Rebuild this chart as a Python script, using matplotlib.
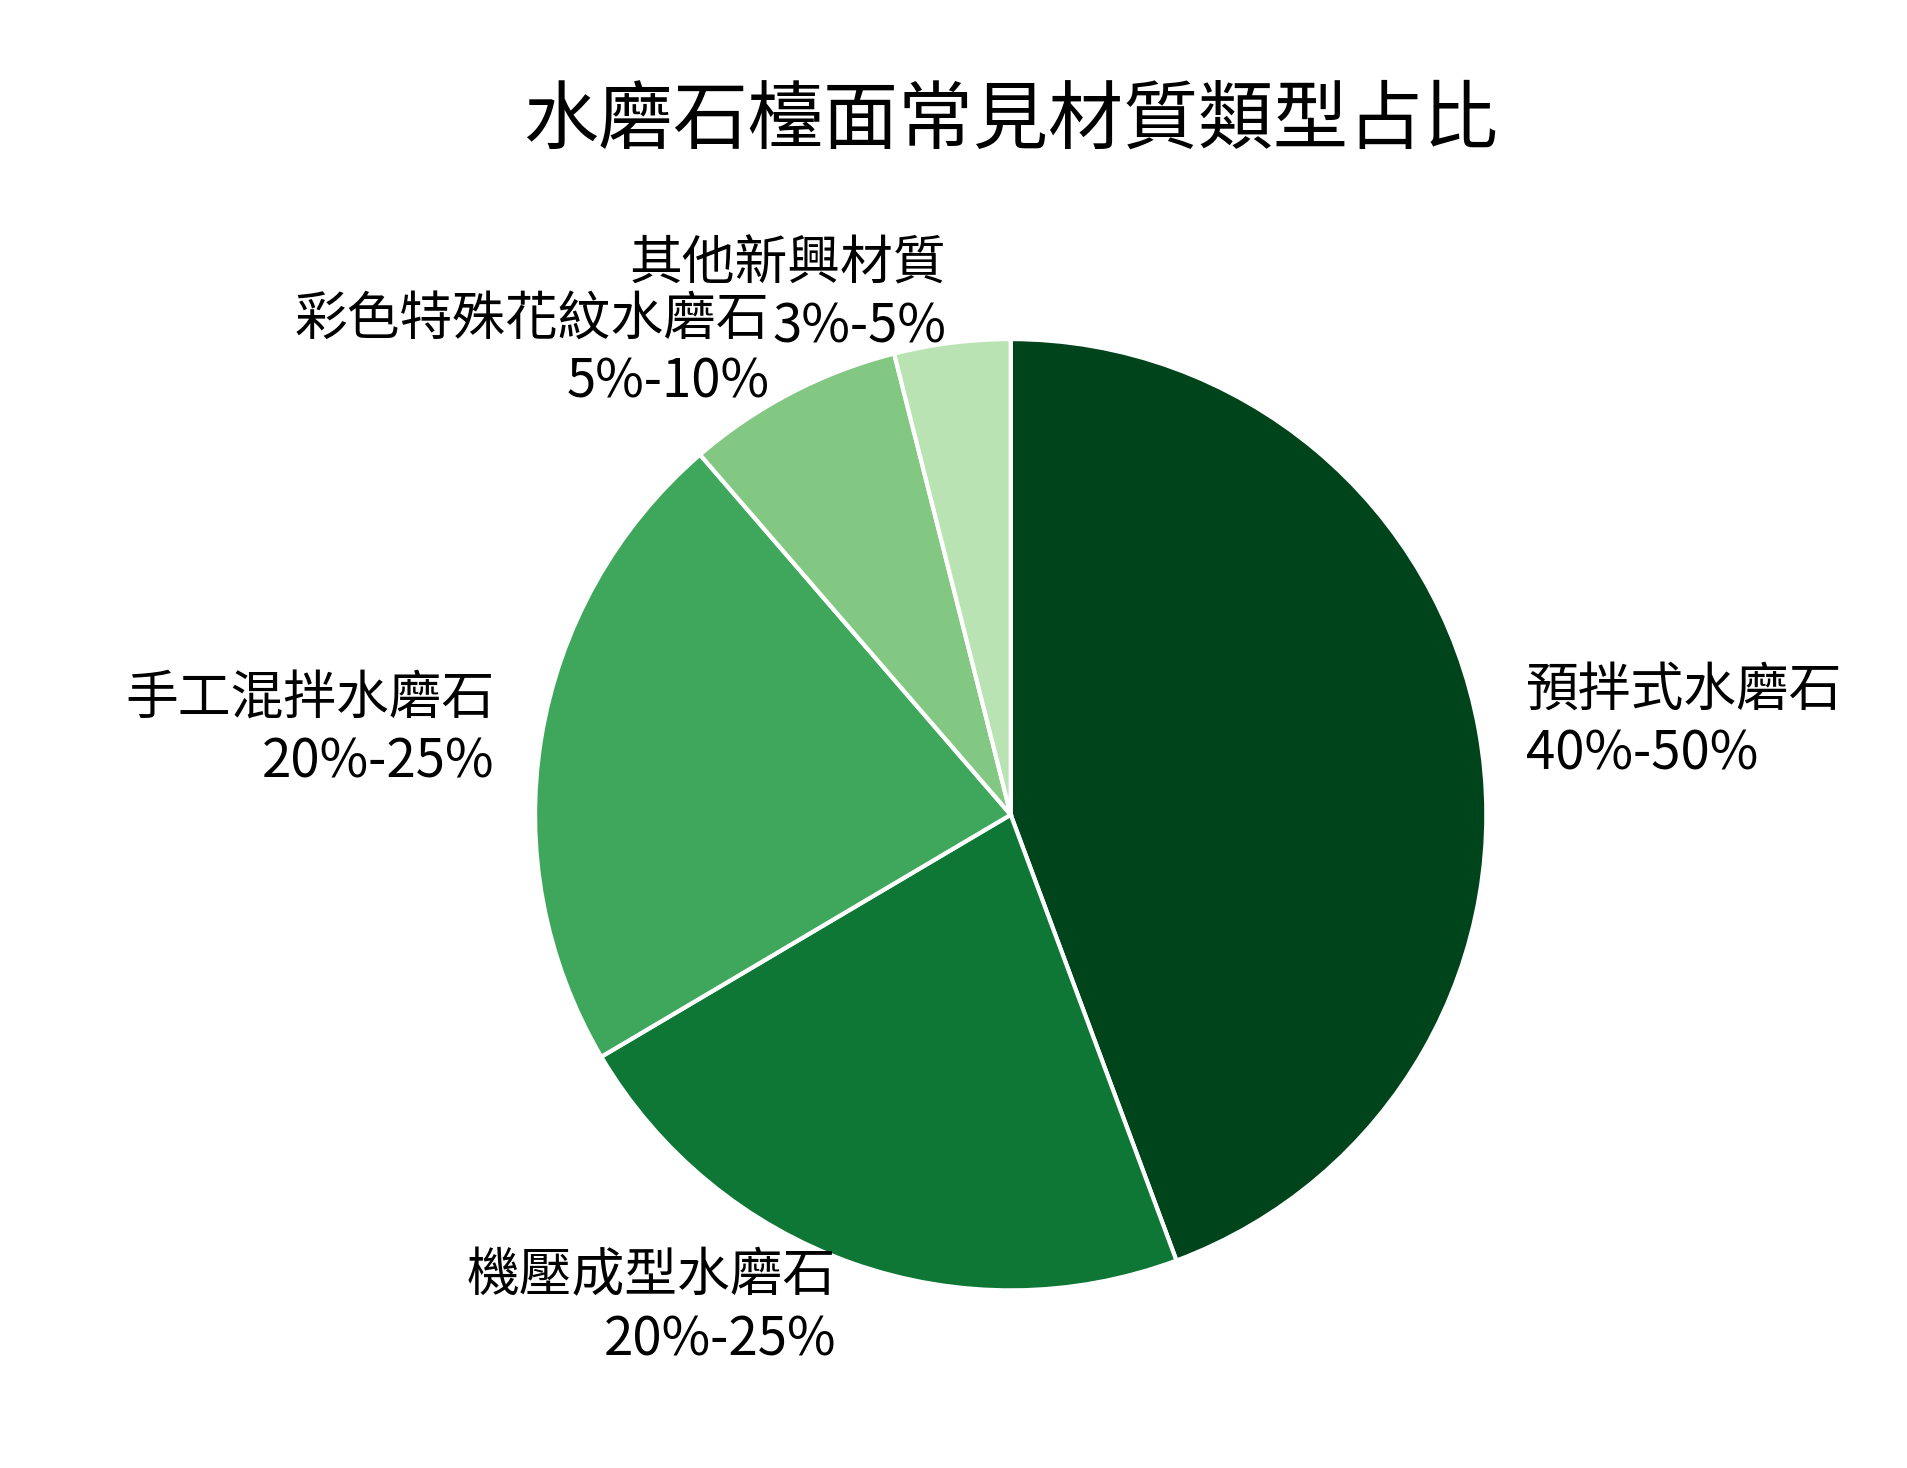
import matplotlib
matplotlib.use("Agg")
import matplotlib.pyplot as plt

plt.rcParams['font.family'] = ['Noto Sans CJK TC', 'DejaVu Sans']

categories = ["預拌式水磨石", "機壓成型水磨石", "手工混拌水磨石", "彩色特殊花紋水磨石", "其他新興材質"]
ranges = ["40%-50%", "20%-25%", "20%-25%", "5%-10%", "3%-5%"]
values = [45, 22.5, 22.5, 7.5, 4]
colors = ["#00441b", "#0e7735", "#3fa75b", "#83c882", "#b9e3b2"]

fig, ax = plt.subplots(figsize=(9.535, 7.34), dpi=200)
labels = [f"{c}\n{r}" for c, r in zip(categories, ranges)]
wedges, texts = ax.pie(values, labels=labels, colors=colors, startangle=90,
                       counterclock=False, labeldistance=1.1,
                       wedgeprops=dict(edgecolor="white", linewidth=1.5),
                       textprops=dict(fontsize=19))
ax.set_title("水磨石檯面常見材質類型占比", fontsize=27, pad=28)
ax.set_aspect("equal")
plt.subplots_adjust(left=0.08, right=0.98, top=0.85, bottom=0.04)
fig.savefig("out.png", dpi=200)
